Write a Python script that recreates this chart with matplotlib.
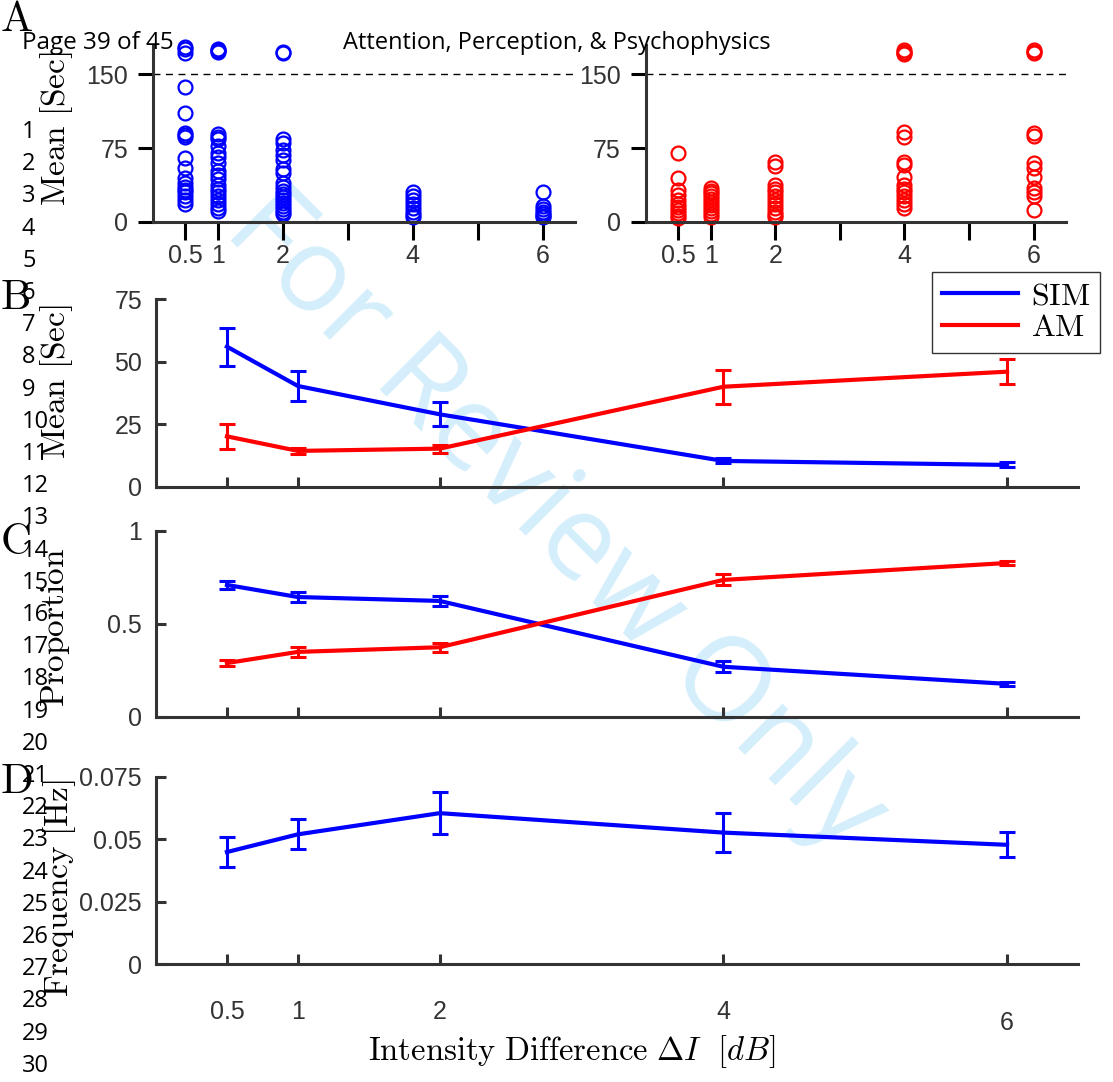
import matplotlib
matplotlib.use("Agg")
import matplotlib.pyplot as plt
from matplotlib.lines import Line2D
from matplotlib.transforms import blended_transform_factory

plt.rcParams["mathtext.fontset"] = "cm"
plt.rcParams["font.family"] = ["Liberation Sans", "DejaVu Sans"]

# ---- data -----------------------------------------------------------------
levels = [0.5, 1, 2, 4, 6]

# panel A: individual mean durations (s); values above 150 sit near the top
sim_scatter = [
    [178, 176, 172, 137, 111, 90, 88, 86, 65, 55, 45, 40, 36, 33, 30, 26, 22, 18],
    [176, 175, 174, 173, 89, 86, 84, 77, 70, 66, 60, 52, 48, 44, 38, 34, 30, 26,
     22, 18, 14, 11],
    [173, 172, 84, 80, 73, 68, 63, 54, 50, 40, 36, 32, 28, 25, 22, 19, 16, 13, 10, 8],
    [30, 26, 22, 18, 14, 10, 7, 5],
    [31, 16, 13, 10, 8, 6, 5],
]
am_scatter = [
    [70, 45, 33, 27, 22, 18, 15, 12, 9, 6, 4],
    [35, 32, 29, 26, 23, 20, 17, 14, 11, 8, 5],
    [61, 57, 38, 34, 30, 26, 22, 18, 14, 10, 7, 5],
    [175, 173, 172, 171, 92, 86, 61, 58, 46, 38, 34, 30, 26, 22, 18, 14],
    [175, 173, 172, 91, 87, 60, 55, 46, 35, 31, 26, 12],
]
a_ticks = [0.5, 1, 2, 3, 4, 5, 6]
a_ticklabels = ["0.5", "1", "2", "", "4", "", "6"]
a_yticks = [0, 75, 150]
cutoff = 150

# panel B: mean duration (s)
sim_mean = [56.0, 40.3, 29.0, 10.4, 8.8]
sim_mean_err = [7.6, 5.8, 4.8, 1.0, 1.0]
am_mean = [20.2, 14.4, 15.3, 40.0, 46.0]
am_mean_err = [5.0, 1.2, 1.6, 6.8, 5.0]

# panel C: proportion
sim_prop = [0.71, 0.645, 0.624, 0.27, 0.178]
sim_prop_err = [0.02, 0.025, 0.025, 0.03, 0.01]
am_prop = [0.29, 0.35, 0.375, 0.737, 0.828]
am_prop_err = [0.015, 0.025, 0.025, 0.03, 0.01]

# panel D: switching frequency (Hz)
freq = [0.0449, 0.052, 0.0605, 0.0527, 0.0478]
freq_err = [0.006, 0.006, 0.0085, 0.0078, 0.005]
tick_text = ["0.5", "1", "2", "4", "6"]

BLUE = "#0000ff"
RED = "#ff0000"
AXC = "#333333"
TICK_FS = 18

W, H = 1113, 1082
fig = plt.figure(figsize=(W / 100, H / 100), dpi=100)


def box(x0, y0, x1, y1):
    # pixel box (top-left origin) -> figure fraction rect
    return [x0 / W, 1 - y1 / H, (x1 - x0) / W, (y1 - y0) / H]


def style_a(ax):
    for s in ("top", "right"):
        ax.spines[s].set_visible(False)
    for s in ("left", "bottom"):
        ax.spines[s].set_color(AXC)
        ax.spines[s].set_linewidth(2.2)
    ax.patch.set_visible(False)
    ax.set_xlim(0, 6.5)
    ax.set_ylim(0, 180)
    ax.set_xticks(a_ticks)
    ax.set_xticklabels(a_ticklabels)
    ax.set_yticks(a_yticks)
    ax.tick_params(axis="x", direction="out", length=13, width=2.2, color="black",
                   labelsize=TICK_FS, labelcolor=AXC, pad=3)
    ax.tick_params(axis="y", direction="out", length=11, width=2.2, color="black",
                   labelsize=TICK_FS, labelcolor=AXC, pad=7)
    ax.axhline(cutoff, color="black", lw=1.0, ls=(0, (5, 4)), zorder=1)


def scatter_cols(ax, cols, color):
    for x, vals in zip(levels, cols):
        ax.plot([x] * len(vals), vals, ls="none", marker="o", ms=10, mfc="none",
                mec=color, mew=1.6, clip_on=False)


ax_al = fig.add_axes(box(153, 45, 575, 222))
style_a(ax_al)
scatter_cols(ax_al, sim_scatter, BLUE)

ax_ar = fig.add_axes(box(646, 45, 1066, 222))
style_a(ax_ar)
scatter_cols(ax_ar, am_scatter, RED)


def style_line(ax, ylim, yticks, yticklabels):
    for s in ("top", "right"):
        ax.spines[s].set_visible(False)
    for s in ("left", "bottom"):
        ax.spines[s].set_color(AXC)
        ax.spines[s].set_linewidth(2.2)
    ax.patch.set_visible(False)
    ax.set_xlim(0, 6.5)
    ax.set_ylim(*ylim)
    ax.set_xticks(levels)
    ax.set_xticklabels([])
    ax.set_yticks(yticks)
    ax.set_yticklabels(yticklabels)
    ax.tick_params(axis="x", direction="in", length=7, width=2.2, color=AXC)
    ax.tick_params(axis="y", direction="in", length=7, width=2.2, color=AXC,
                   labelsize=TICK_FS, labelcolor=AXC, pad=10)


def err_line(ax, y, e, color):
    ax.errorbar(levels, y, yerr=e, color=color, lw=3, elinewidth=2.2,
                capsize=6, capthick=2.2, clip_on=False)


ax_b = fig.add_axes(box(156, 299, 1078, 487))
style_line(ax_b, (0, 75), [0, 25, 50, 75], ["0", "25", "50", "75"])
err_line(ax_b, sim_mean, sim_mean_err, BLUE)
err_line(ax_b, am_mean, am_mean_err, RED)

ax_c = fig.add_axes(box(156, 531, 1078, 717))
style_line(ax_c, (0, 1), [0, 0.5, 1], ["0", "0.5", "1"])
err_line(ax_c, sim_prop, sim_prop_err, BLUE)
err_line(ax_c, am_prop, am_prop_err, RED)

ax_d = fig.add_axes(box(156, 777, 1078, 964))
style_line(ax_d, (0, 0.075), [0, 0.025, 0.05, 0.075], ["0", "0.025", "0.05", "0.075"])
err_line(ax_d, freq, freq_err, BLUE)
trans = blended_transform_factory(ax_d.transData, ax_d.transAxes)
for x, lab in zip(levels, tick_text):
    # the last label sits a bit lower in the original
    yy = -0.315 if lab == "6" else -0.257
    ax_d.text(x, yy, lab, transform=trans, ha="center", va="center",
              fontsize=TICK_FS, color=AXC)

# legend
handles = [Line2D([], [], color=BLUE, lw=3), Line2D([], [], color=RED, lw=3)]
leg = fig.legend(handles, [r"$\mathrm{SIM}$", r"$\mathrm{AM}$"], loc="upper right",
                 bbox_to_anchor=(1100 / W, 1 - 272 / H), borderaxespad=0,
                 fontsize=23, frameon=True, fancybox=False, edgecolor="black",
                 handlelength=2.4, borderpad=0.3, labelspacing=0.05,
                 handletextpad=0.4)
leg.get_frame().set_linewidth(1.0)

# axis labels (serif, LaTeX look)
lab_kw = dict(rotation=90, ha="center", va="center", fontsize=24, color="black")
mean_lab = r"$\mathrm{Mean\ [Sec]}$"
fig.text(57 / W, 1 - 129 / H, mean_lab, **lab_kw)
fig.text(57 / W, 1 - 382 / H, mean_lab, **lab_kw)
fig.text(55 / W, 1 - 627 / H, r"$\mathrm{Proportion}$", **lab_kw)
fig.text(60 / W, 1 - 888 / H, r"$\mathrm{Frequency\ [Hz]}$", **lab_kw)
fig.text(572 / W, 1 - 1052 / H, r"$\mathrm{Intensity\ Difference}\ \Delta I\ \ [dB]$",
         ha="center", va="center", fontsize=23.5)

# panel letters
for letter, ypx in zip("ABCD", [20, 298, 543, 782]):
    fig.text(0 / W, 1 - ypx / H, r"$\mathrm{%s}$" % letter, ha="left", va="center",
             fontsize=31)

# manuscript overlay: header, line numbers, watermark
sans = ["Open Sans", "DejaVu Sans"]
fig.text(22 / W, 1 - 43 / H, "Page 39 of 45", ha="left", va="center",
         fontsize=17.5, family=sans)
fig.text(557 / W, 1 - 43 / H, "Attention, Perception, & Psychophysics", ha="center",
         va="center", fontsize=17, family=sans)
for i in range(1, 31):
    ypx = 132 + (i - 1) * 32.2
    fig.text(22 / W, 1 - ypx / H, str(i), ha="left", va="center", fontsize=17,
             family=sans)
fig.text(555 / W, 1 - 522 / H, "For Review Only", rotation=-45, ha="center",
         va="center", fontsize=85, color="#d4eefb", zorder=-1, family=sans)

fig.savefig("out.png", dpi=100)
